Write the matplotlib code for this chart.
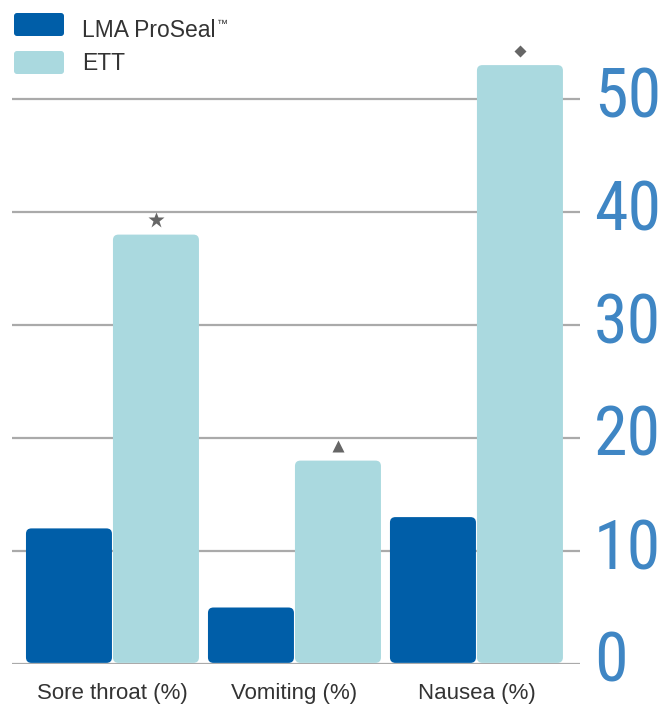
import matplotlib
matplotlib.use("Agg")
import matplotlib.pyplot as plt
from matplotlib.patches import FancyBboxPatch
from matplotlib.transforms import ScaledTranslation
from matplotlib import font_manager as fm
import numpy as np

categories = ["Sore throat (%)", "Vomiting (%)", "Nausea (%)"]
series_names = ["LMA ProSeal", "ETT"]
series_marks = ["\u2122", ""]
lma_values = [12, 5, 13]
ett_values = [38, 18, 53]
marker_symbols = ["*", "^", "D"]
y_ticks = [0, 10, 20, 30, 40, 50]

c_lma = "#005ea8"
c_ett = "#aad9df"
c_tick = "#3f86c4"
c_grid = "#aaaaaa"
c_text = "#333333"
c_mark = "#666666"

names = {f.name for f in fm.fontManager.ttflist}
narrow = [n for n in ["Liberation Sans Narrow", "Roboto Condensed", "Open Sans Condensed",
                      "DejaVu Sans Condensed", "Noto Sans Condensed"] if n in names]
cond_stretch = any(f.name == "DejaVu Sans" and str(f.stretch) in ("condensed", "semi-condensed")
                   for f in fm.fontManager.ttflist)
if narrow:
    tick_family = [narrow[0], "DejaVu Sans"]
    tick_size = 49
    tick_stretch = "normal"
elif cond_stretch:
    tick_family = ["DejaVu Sans"]
    tick_size = 46
    tick_stretch = "condensed"
else:
    tick_family = ["Liberation Sans", "DejaVu Sans"]
    tick_size = 42
    tick_stretch = "normal"

W, H = 664, 704
fig = plt.figure(figsize=(W / 100, H / 100), dpi=100)

ax_left, ax_right = 12, 580
ax_bot_px, ax_top_px = 664, 42.5
ax = fig.add_axes([ax_left / W, (H - ax_bot_px) / H,
                   (ax_right - ax_left) / W, (ax_bot_px - ax_top_px) / H])
ax.set_xlim(-0.552, 2.569)
ax.set_ylim(0, 55)
for s in ax.spines.values():
    s.set_visible(False)

for t in y_ticks:
    ax.axhline(t, color=c_grid, lw=1.6, zorder=1)

x = np.arange(len(categories))
bw = 0.4725
off = 0.239
rx = 0.03
aspect = 16.0

def rounded_bars(xs, vals, color):
    bars = ax.bar(xs, vals, width=bw, color=color, zorder=2)
    for b in bars:
        x0, y0 = b.get_x(), b.get_y()
        w, h = b.get_width(), b.get_height()
        b.set_visible(False)
        p = FancyBboxPatch((x0, y0 + 0.1), w, h - 0.1,
                           boxstyle=f"round,pad=0,rounding_size={rx}",
                           mutation_aspect=aspect, fc=color, ec="none", zorder=2)
        ax.add_patch(p)

rounded_bars(x - off, lma_values, c_lma)
rounded_bars(x + off, ett_values, c_ett)

msizes = {"*": 12, "^": 9, "D": 6}
for xi, v, m in zip(x + off, ett_values, marker_symbols):
    ax.plot([xi], [v + 1.25], marker=m, ms=msizes[m], color=c_mark,
            mec="none", zorder=3, ls="none")

ax.set_xticks(x)
ax.set_xticklabels(categories, fontsize=16, color=c_text, family=["Liberation Sans", "DejaVu Sans"])
ax.tick_params(axis="x", length=0, pad=14)

ax.yaxis.tick_right()
ax.set_yticks(y_ticks)
ax.set_yticklabels([str(t) for t in y_ticks], fontsize=tick_size, color=c_tick,
                   family=tick_family, fontstretch=tick_stretch)
ax.tick_params(axis="y", length=0, pad=10)
for lab in ax.get_yticklabels():
    lab.set_transform(lab.get_transform() + ScaledTranslation(0, 8 / 100, fig.dpi_scale_trans))

# legend
lax = fig.add_axes([0, 0, 1, 1])
lax.set_xlim(0, W)
lax.set_ylim(H, 0)
lax.axis("off")
fig.canvas.draw()
renderer = fig.canvas.get_renderer()
baselines = [37, 70]
for i, (name, mark, col) in enumerate(zip(series_names, series_marks, [c_lma, c_ett])):
    y0 = 13 + 38 * i
    lax.add_patch(FancyBboxPatch((14, y0), 50, 23,
                                 boxstyle="round,pad=0,rounding_size=3",
                                 fc=col, ec="none"))
    t = lax.text(82, baselines[i], name, fontsize=16.5, color=c_text, va="baseline", ha="left",
                 family=["Liberation Sans", "DejaVu Sans"])
    if mark:
        bb = t.get_window_extent(renderer=renderer)
        xe = bb.x1
        lax.text(xe + 1, baselines[i] - 10, mark, fontsize=8, color=c_text, va="baseline",
                 ha="left", family=["Liberation Sans", "DejaVu Sans"])

fig.savefig("out.png", dpi=100)
